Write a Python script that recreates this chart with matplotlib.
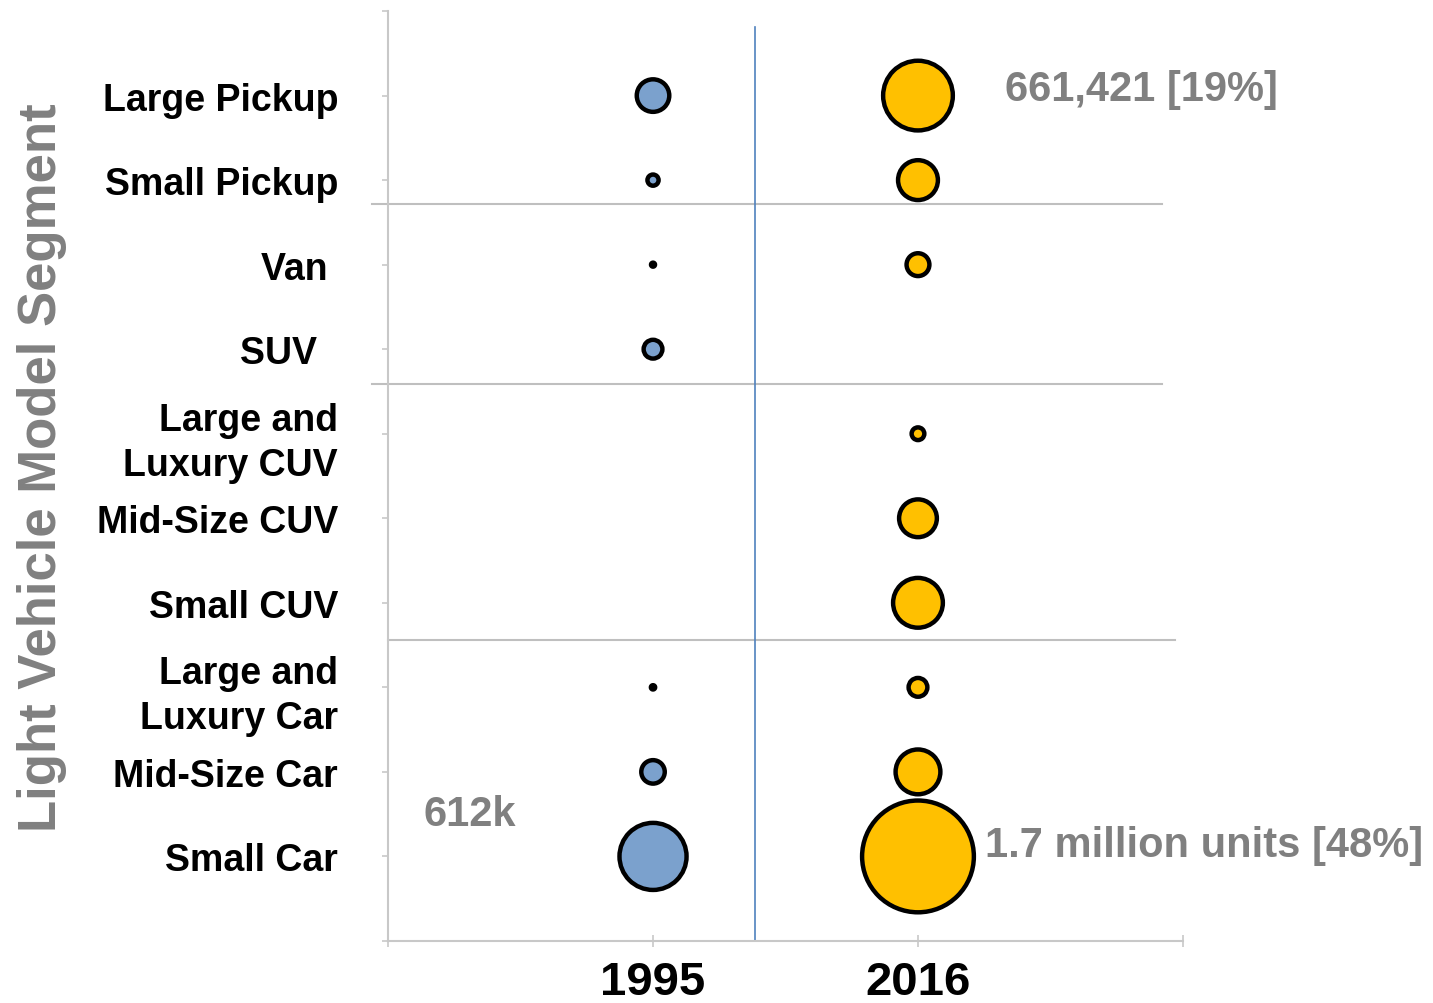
import numpy as np
import matplotlib.pyplot as plt

# ------------------------------------------------------------
# data (thousand units), top to bottom
# ------------------------------------------------------------
segments = ["Large Pickup", "Small Pickup", "Van ", "SUV  ",
            "Large and\nLuxury CUV", "Mid-Size CUV", "Small CUV",
            "Large and\nLuxury Car", "Mid-Size Car", "Small Car"]
years = ["1995", "2016"]
sales_1995 = [144, 17, 2.2, 48, np.nan, np.nan, np.nan, 2.5, 75, 612]
sales_2016 = [661, 216, 71, np.nan, 22, 194, 337, 48, 273, 1700]

# styling
BLUE = "#7BA1CD"
GOLD = "#FFC000"
GRAY_TXT = "#808080"
AXIS_GRAY = "#C8C8C8"
SIZE_SCALE = 3.81   # marker area (pt^2) per thousand units
EDGE_W = 3.2

plt.rcParams["font.family"] = ["Liberation Sans", "DejaVu Sans"]
plt.rcParams["font.weight"] = "bold"

fig = plt.figure(figsize=(14.33, 10.04), dpi=100)
ax = fig.add_axes([0.2708, 0.0618, 0.5547, 0.9262])

n = len(segments)
ypos = np.arange(n, 0, -1)   # Large Pickup at top

for xi, vals, col in [(1, sales_1995, BLUE), (2, sales_2016, GOLD)]:
    vals = np.array(vals, dtype=float)
    mask = ~np.isnan(vals)
    ax.scatter(np.full(mask.sum(), xi), ypos[mask], s=vals[mask] * SIZE_SCALE,
               color=col, edgecolor="black", linewidth=EDGE_W, zorder=3,
               clip_on=False)

# divider between years
ax.plot([1.385, 1.385], [0, 10.81], color="#4F81BD", lw=1.2, zorder=2)

# group separators
ax.plot([-0.06, 2.92], [8.72, 8.72], color="#BFBFBF", lw=1.5, clip_on=False, zorder=1)
ax.plot([-0.06, 2.92], [6.59, 6.59], color="#BFBFBF", lw=1.5, clip_on=False, zorder=1)
ax.plot([0, 2.97], [3.56, 3.56], color="#BFBFBF", lw=1.5, clip_on=False, zorder=1)

ax.set_xlim(0, 3)
ax.set_ylim(0, 11)

ax.set_xticks([0, 1, 2, 3])
ax.set_xticklabels(["", years[0], years[1], ""], fontsize=34, fontweight="bold")
ax.set_yticks(np.arange(0, 12))
ax.set_yticklabels([""] + segments[::-1] + [""], fontsize=27, fontweight="bold",
                   linespacing=1.32)

ax.tick_params(axis="y", length=4, width=1.2, color=AXIS_GRAY, pad=32)
ax.tick_params(axis="x", direction="inout", length=8, width=1.2, color=AXIS_GRAY, pad=10)

for side in ["top", "right"]:
    ax.spines[side].set_visible(False)
for side in ["left", "bottom"]:
    ax.spines[side].set_color(AXIS_GRAY)
    ax.spines[side].set_linewidth(1.5)

ax.set_ylabel("Light Vehicle Model Segment", fontsize=38, fontweight="bold",
              color=GRAY_TXT)
ax.yaxis.set_label_coords(-0.404, 0.51)

# call-outs
ax.text(2.328, 10.08, "661,421 [19%]", fontsize=30, fontweight="bold",
        color=GRAY_TXT, va="center", ha="left")
ax.text(2.253, 1.14, "1.7 million units [48%]", fontsize=30, fontweight="bold",
        color=GRAY_TXT, va="center", ha="left")
ax.text(0.132, 1.50, "612k", fontsize=30, fontweight="bold",
        color=GRAY_TXT, va="center", ha="left")

fig.savefig("out.png", dpi=100)
